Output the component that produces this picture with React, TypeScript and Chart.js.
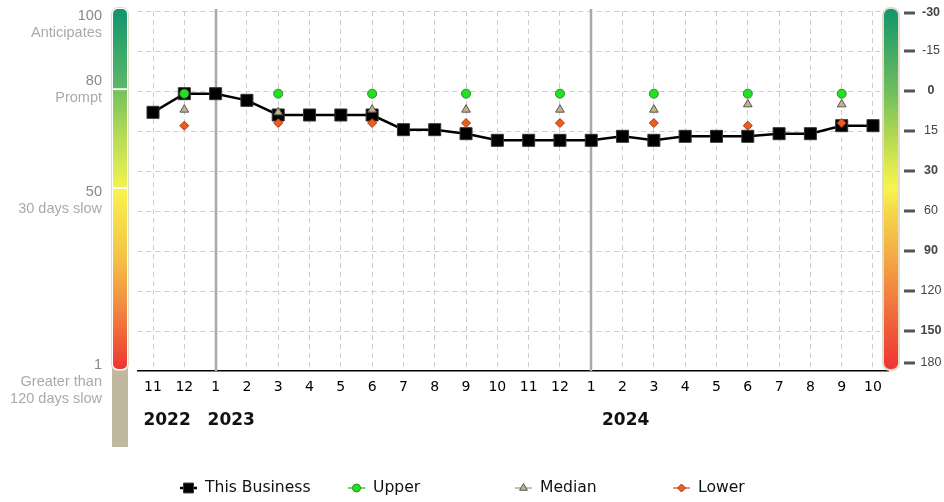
import React, { useEffect, useRef } from 'react';
import { Chart, registerables } from 'chart.js';
import { drawPoint } from 'chart.js/helpers';

Chart.register(...registerables);

// ---------- data ----------
const MONTHS = ['11', '12', '1', '2', '3', '4', '5', '6', '7', '8', '9', '10', '11', '12', '1', '2', '3', '4', '5', '6', '7', '8', '9', '10'];
const YEARS = ['2022', '2023', '2024'];
const YEAR_LABEL_AT = [0.45, 2.5, 15.1]; // category index where each year label is centred
const YEAR_START_INDEX = [2, 14]; // January positions (solid separators)

// days beyond terms (all within the linear -30..30 part of the axis)
const BUSINESS = [8, 1, 1, 3.5, 9, 9, 9, 9, 14.5, 14.5, 16, 18.5, 18.5, 18.5, 18.5, 17, 18.5, 17, 17, 17, 16, 16, 13, 13];
const UPPER = [null, 1, null, null, 1, null, null, 1, null, null, 1, null, null, 1, null, null, 1, null, null, 1, null, null, 1, null];
const MEDIAN = [null, 7, null, null, 8, null, null, 7, null, null, 7, null, null, 7, null, null, 7, null, null, 5, null, null, 5, null];
const LOWER = [null, 13, null, null, 12, null, null, 12, null, null, 12, null, null, 12, null, null, 12, null, null, 13, null, null, 12, null];

// right axis: equally spaced tick labels (days)
const DAY_TICKS = [-30, -15, 0, 15, 30, 60, 90, 120, 150, 180];
const DAY_TICK_BOLD = [true, false, true, false, true, false, true, false, true, false];
// left axis: score labels
const SCORE_LABELS = ['100', '80', '50', '1'];
const SCORE_DESC = [['Anticipates'], ['Prompt'], ['30 days slow'], ['Greater than', '120 days slow']];

// ---------- layout (axis units / pixels, not data) ----------
const AXIS_MIN = -30;
const AXIS_STEP = 15;
const AXIS_MAX = AXIS_MIN + AXIS_STEP * (DAY_TICKS.length - 1);
const SCORE_POS = [-28.2, -3.8, 38, 102.8];
const LEFT_BREAKS = [-0.7, 36.4];
const LEGEND_COL_X = [180, 348, 515, 673];

function rrect(ctx: CanvasRenderingContext2D, x: number, y: number, w: number, h: number, r: number[]) {
  ctx.beginPath();
  if ((ctx as any).roundRect) (ctx as any).roundRect(x, y, w, h, r);
  else ctx.rect(x, y, w, h);
}

const decor = {
  id: 'decor',
  beforeDatasetsDraw(chart: any) {
    const { ctx, chartArea, scales } = chart;
    const x = scales.x;
    ctx.save();
    ctx.strokeStyle = '#a9a9a9';
    ctx.lineWidth = 2.5;
    YEAR_START_INDEX.forEach((i) => {
      const px = Math.round(x.getPixelForValue(i));
      ctx.beginPath();
      ctx.moveTo(px, chartArea.top - 2);
      ctx.lineTo(px, chartArea.bottom);
      ctx.stroke();
    });
    ctx.restore();
  },
  afterDraw(chart: any) {
    const { ctx, chartArea, scales } = chart;
    const x = scales.x;
    const y = scales.y;
    const top = chartArea.top - 3;
    const bottom = chartArea.bottom - 1;

    ctx.save();
    // ---- left colour bar ----
    const lx = 112, bw = 16;
    const b80 = y.getPixelForValue(LEFT_BREAKS[0]);
    const b50 = y.getPixelForValue(LEFT_BREAKS[1]);
    ctx.fillStyle = '#c0b9a0';
    ctx.fillRect(lx, bottom - 8, bw, chartArea.bottom + 76 - (bottom - 8));
    ctx.strokeStyle = '#e2dcc6';
    ctx.lineWidth = 2;
    rrect(ctx, lx, top, bw, bottom - top, [6, 6, 6, 6]);
    ctx.stroke();
    ctx.fillStyle = '#fff';
    ctx.fill();

    let g = ctx.createLinearGradient(0, top, 0, b80);
    g.addColorStop(0, '#11946e');
    g.addColorStop(1, '#5cb967');
    ctx.fillStyle = g;
    rrect(ctx, lx + 1, top + 1, bw - 2, b80 - 1 - (top + 1), [5, 5, 0, 0]);
    ctx.fill();

    g = ctx.createLinearGradient(0, b80, 0, b50);
    g.addColorStop(0, '#74c15d');
    g.addColorStop(0.5, '#b8dc55');
    g.addColorStop(1, '#f3f352');
    ctx.fillStyle = g;
    ctx.fillRect(lx + 1, b80 + 1, bw - 2, b50 - 1 - (b80 + 1));

    g = ctx.createLinearGradient(0, b50, 0, bottom);
    g.addColorStop(0, '#f9f34d');
    g.addColorStop(0.35, '#f5c748');
    g.addColorStop(0.6, '#f29742');
    g.addColorStop(0.85, '#ef5a38');
    g.addColorStop(1, '#ee3131');
    ctx.fillStyle = g;
    rrect(ctx, lx + 1, b50 + 1, bw - 2, bottom - 1 - (b50 + 1), [0, 0, 5, 5]);
    ctx.fill();

    // ---- left labels ----
    ctx.textAlign = 'right';
    ctx.textBaseline = 'middle';
    SCORE_LABELS.forEach((lab, i) => {
      const py = y.getPixelForValue(SCORE_POS[i]);
      ctx.font = '14.5px "Liberation Sans", Arial, sans-serif';
      ctx.fillStyle = '#888';
      ctx.fillText(lab, 102, py);
      ctx.fillStyle = '#aaa';
      SCORE_DESC[i].forEach((d, j) => ctx.fillText(d, 102, py + 17 * (j + 1)));
    });

    // ---- right colour bar ----
    const rx = 883;
    g = ctx.createLinearGradient(0, top, 0, bottom);
    g.addColorStop(0, '#11946e');
    g.addColorStop(0.227, '#6dbd5e');
    g.addColorStop(0.337, '#a9d553');
    g.addColorStop(0.45, '#e4ec4e');
    g.addColorStop(0.5, '#f8f450');
    g.addColorStop(0.55, '#f6dc4a');
    g.addColorStop(0.66, '#f4b446');
    g.addColorStop(0.77, '#f28a40');
    g.addColorStop(0.88, '#ef5e3a');
    g.addColorStop(1, '#ee3333');
    ctx.strokeStyle = '#e2dcc6';
    ctx.lineWidth = 2;
    rrect(ctx, rx, top, bw, bottom - top, [7, 7, 7, 7]);
    ctx.fillStyle = g;
    ctx.fill();
    ctx.stroke();

    // ---- right ticks ----
    ctx.textAlign = 'center';
    DAY_TICKS.forEach((d, i) => {
      let py = y.getPixelForValue(AXIS_MIN + AXIS_STEP * i);
      py = Math.min(Math.max(py, chartArea.top + 2), chartArea.bottom - 8);
      ctx.strokeStyle = '#555';
      ctx.lineWidth = 3;
      ctx.beginPath();
      ctx.moveTo(904, py);
      ctx.lineTo(915, py);
      ctx.stroke();
      ctx.fillStyle = '#444';
      ctx.font = DAY_TICK_BOLD[i]
        ? 'bold 12.5px "Liberation Sans", Arial, sans-serif'
        : '12.5px "Liberation Sans Narrow", "Liberation Sans", Arial, sans-serif';
      ctx.fillText(String(d), 931, py);
    });

    // ---- year labels ----
    ctx.font = 'bold 17px "DejaVu Sans", sans-serif';
    ctx.fillStyle = '#111';
    YEARS.forEach((yr, i) => {
      ctx.fillText(yr, x.getPixelForValue(YEAR_LABEL_AT[i]), chartArea.bottom + 50);
    });

    // ---- legend ----
    const ly = 488;
    chart.data.datasets.forEach((ds: any, i: number) => {
      const x0 = LEGEND_COL_X[i];
      ctx.strokeStyle = ds.legendLine;
      ctx.lineWidth = ds.legendLineWidth;
      ctx.beginPath();
      ctx.moveTo(x0, ly);
      ctx.lineTo(x0 + 17, ly);
      ctx.stroke();
      ctx.fillStyle = ds.pointBackgroundColor;
      ctx.strokeStyle = ds.pointBorderColor;
      ctx.lineWidth = ds.pointBorderWidth;
      drawPoint(ctx, { pointStyle: ds.pointStyle, rotation: 0, radius: ds.legendRadius, borderWidth: ds.pointBorderWidth }, x0 + 8.5, ly);
      ctx.fillStyle = '#111';
      ctx.textAlign = 'left';
      ctx.font = '15.6px "DejaVu Sans", sans-serif';
      ctx.fillText(ds.label, x0 + 25, ly);
    });
    ctx.restore();
  },
};

export default function App() {
  const ref = useRef<HTMLCanvasElement | null>(null);
  useEffect(() => {
    if (!ref.current) return;
    Chart.defaults.font.family = '"DejaVu Sans", sans-serif';
    const chart = new Chart(ref.current, {
      type: 'line',
      data: {
        labels: MONTHS,
        datasets: [
          {
            label: 'This Business', data: BUSINESS, order: 4,
            borderColor: '#000', borderWidth: 2.5, tension: 0,
            pointStyle: 'rect', pointRadius: 8.5, pointBackgroundColor: '#000', pointBorderColor: '#333', pointBorderWidth: 1,
            legendLine: '#000', legendLineWidth: 2.5, legendRadius: 7,
          } as any,
          {
            label: 'Upper', data: UPPER, order: 1, showLine: false,
            pointStyle: 'circle', pointRadius: 4.5, pointBackgroundColor: '#22e022', pointBorderColor: '#2a8a2a', pointBorderWidth: 1,
            legendLine: '#33cc33', legendLineWidth: 1.5, legendRadius: 4,
          } as any,
          {
            label: 'Median', data: MEDIAN, order: 2, showLine: false,
            pointStyle: 'triangle', pointRadius: 5, pointBackgroundColor: '#bdb48e', pointBorderColor: '#555', pointBorderWidth: 1,
            legendLine: '#b5ad88', legendLineWidth: 1.5, legendRadius: 4.5,
          } as any,
          {
            label: 'Lower', data: LOWER, order: 3, showLine: false,
            pointStyle: 'rectRot', pointRadius: 4.5, pointBackgroundColor: '#f05a1e', pointBorderColor: '#a03a10', pointBorderWidth: 1,
            legendLine: '#f06a3a', legendLineWidth: 1.5, legendRadius: 4,
          } as any,
        ],
      },
      options: {
        responsive: false,
        animation: false,
        layout: { padding: { left: 137.35, top: 11, right: 0, bottom: 0 } },
        plugins: { legend: { display: false }, tooltip: { enabled: false } },
        scales: {
          x: {
            type: 'category',
            offset: true,
            grid: { offset: false, color: '#cdcdcd', lineWidth: 1, drawTicks: false },
            border: { display: true, color: '#000', width: 1.5, dash: [5, 4] },
            ticks: { color: '#000', font: { family: '"DejaVu Sans", sans-serif', size: 14 }, padding: 8, maxRotation: 0, autoSkip: false },
            afterFit: (s: any) => { s.height = 131; },
          },
          y: {
            type: 'linear',
            position: 'right',
            reverse: true,
            min: AXIS_MIN,
            max: AXIS_MAX,
            ticks: { stepSize: AXIS_STEP, display: false },
            grid: {
              color: (c: any) => (c.tick && c.tick.value === AXIS_MAX ? 'rgba(0,0,0,0)' : '#cdcdcd'),
              drawTicks: false,
            },
            border: { display: false, dash: [5, 4] },
            afterFit: (s: any) => { s.width = 55.35; },
          },
        },
      } as any,
      plugins: [decor],
    });
    return () => chart.destroy();
  }, []);
  return (
    <div style={{ position: 'absolute', left: 0, top: 0, width: 944, height: 502 }}>
      <canvas ref={ref} width={944} height={502} style={{ display: 'block' }} />
    </div>
  );
}
